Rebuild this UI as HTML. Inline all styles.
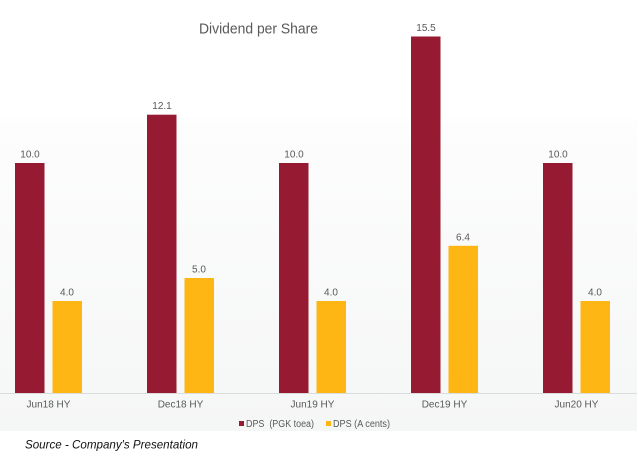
<!DOCTYPE html>
<html><head><meta charset="utf-8"><style>
html,body{margin:0;padding:0;background:#fff;}
svg{display:block;}
text{font-family:"Liberation Sans",sans-serif;}
</style></head><body>
<svg width="638" height="464" viewBox="0 0 638 464" xmlns="http://www.w3.org/2000/svg">
<defs>
<linearGradient id="bg" x1="0" y1="0" x2="0" y2="1">
<stop offset="0" stop-color="#ffffff"/>
<stop offset="0.27" stop-color="#ffffff"/>
<stop offset="0.29" stop-color="#fdfdfd"/>
<stop offset="1" stop-color="#f5f6f6"/>
</linearGradient>
</defs>
<rect x="0" y="0" width="637" height="431" fill="url(#bg)"/>
<text x="199" y="33.5" font-size="15" fill="#595959" textLength="119" lengthAdjust="spacingAndGlyphs">Dividend per Share</text>
<line x1="0" y1="393.5" x2="637" y2="393.5" stroke="#dcdcdc" stroke-width="1"/>
<g fill="#961b32">
<rect x="15" y="163" width="29.5" height="230"/>
<rect x="147" y="114.7" width="29.5" height="278.3"/>
<rect x="279" y="163" width="29.5" height="230"/>
<rect x="411" y="36.5" width="29.5" height="356.5"/>
<rect x="543" y="163" width="29.5" height="230"/>
</g>
<g fill="#fdb614">
<rect x="52.5" y="301" width="29.5" height="92"/>
<rect x="184.5" y="278" width="29.5" height="115"/>
<rect x="316.5" y="301" width="29.5" height="92"/>
<rect x="448.5" y="245.8" width="29.5" height="147.2"/>
<rect x="580.5" y="301" width="29.5" height="92"/>
</g>
<g font-size="10" fill="#595959" text-anchor="middle">
<text x="30" y="157.5">10.0</text>
<text x="67" y="295.5">4.0</text>
<text x="162" y="109.2">12.1</text>
<text x="199" y="272.5">5.0</text>
<text x="294" y="157.5">10.0</text>
<text x="331" y="295.5">4.0</text>
<text x="426" y="31">15.5</text>
<text x="463" y="240.3">6.4</text>
<text x="558" y="157.5">10.0</text>
<text x="595" y="295.5">4.0</text>
</g>
<g font-size="10" fill="#595959" text-anchor="middle">
<text x="48.5" y="407.5">Jun18 HY</text>
<text x="180.5" y="407.5">Dec18 HY</text>
<text x="312.5" y="407.5">Jun19 HY</text>
<text x="444.5" y="407.5">Dec19 HY</text>
<text x="576.5" y="407.5">Jun20 HY</text>
</g>
<rect x="239" y="421" width="5" height="5" fill="#961b32"/>
<text x="246" y="427" font-size="10" fill="#595959" textLength="68" lengthAdjust="spacingAndGlyphs">DPS &#160;(PGK toea)</text>
<rect x="326" y="421" width="5" height="5" fill="#fdb614"/>
<text x="333" y="427" font-size="10" fill="#595959" textLength="57" lengthAdjust="spacingAndGlyphs">DPS (A cents)</text>
<text x="25" y="448.5" font-size="12" font-style="italic" fill="#111" textLength="173" lengthAdjust="spacingAndGlyphs">Source - Company's Presentation</text>
</svg>
</body></html>
